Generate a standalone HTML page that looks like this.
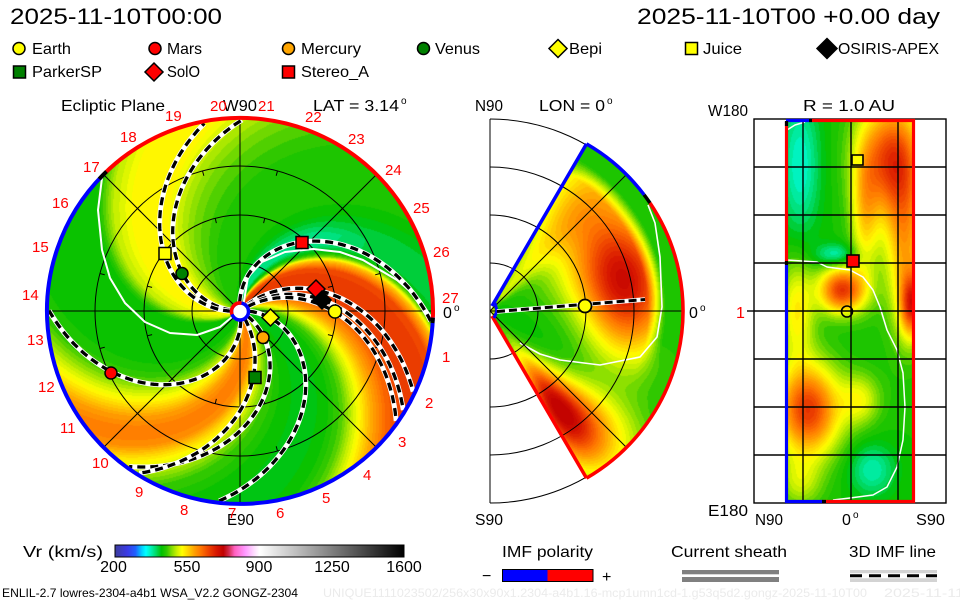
<!DOCTYPE html>
<html><head><meta charset="utf-8">
<style>
html,body{margin:0;padding:0;background:#fff;}
#wrap{position:relative;width:960px;height:600px;overflow:hidden;background:#fff;}
canvas,svg{position:absolute;left:0;top:0;}
</style></head><body>
<div id="wrap">
<svg width="960" height="600">
  <circle cx="240" cy="311" r="193" fill="#40c800"/>
  <path d="M490,311 L586.5,143.9 A193,193 0 0 1 586.5,478.1 Z" fill="#c8e000"/>
  <rect x="787" y="119" width="127" height="384" fill="#60c800"/>
</svg>
<canvas id="cv" width="960" height="600"></canvas>
<svg id="ov" width="960" height="600" font-family="'Liberation Sans', sans-serif">
  <defs>
    <linearGradient id="cb" x1="0" x2="1" y1="0" y2="0">
      <stop offset="0" stop-color="#3c3c9c"/>
      <stop offset="0.043" stop-color="#3a3ae6"/>
      <stop offset="0.071" stop-color="#2060ff"/>
      <stop offset="0.093" stop-color="#00d0ff"/>
      <stop offset="0.107" stop-color="#00ffff"/>
      <stop offset="0.125" stop-color="#00f0b0"/>
      <stop offset="0.143" stop-color="#00d860"/>
      <stop offset="0.161" stop-color="#00c000"/>
      <stop offset="0.179" stop-color="#30c800"/>
      <stop offset="0.196" stop-color="#80dc00"/>
      <stop offset="0.214" stop-color="#c8f000"/>
      <stop offset="0.232" stop-color="#ffff00"/>
      <stop offset="0.254" stop-color="#ffd000"/>
      <stop offset="0.275" stop-color="#ffa000"/>
      <stop offset="0.296" stop-color="#ff7800"/>
      <stop offset="0.321" stop-color="#f04800"/>
      <stop offset="0.35" stop-color="#d81800"/>
      <stop offset="0.375" stop-color="#c00000"/>
      <stop offset="0.393" stop-color="#d02848"/>
      <stop offset="0.414" stop-color="#ff60c0"/>
      <stop offset="0.45" stop-color="#ff98ff"/>
      <stop offset="0.479" stop-color="#ffd8ff"/>
      <stop offset="0.5" stop-color="#ffffff"/>
      <stop offset="1" stop-color="#000000"/>
    </linearGradient>
  </defs>

  <!-- header -->
  <text x="10" y="24" font-size="22" textLength="212" lengthAdjust="spacingAndGlyphs">2025-11-10T00:00</text>
  <text x="637" y="24" font-size="22" textLength="303" lengthAdjust="spacingAndGlyphs">2025-11-10T00 +0.00 day</text>

  <!-- legend -->
  <g stroke="#000" stroke-width="1.5">
    <circle cx="19" cy="48.5" r="6" fill="#ffff00"/>
    <circle cx="155" cy="48.5" r="6" fill="#ff0000"/>
    <circle cx="288.5" cy="48.5" r="6" fill="#ffa500"/>
    <circle cx="423.5" cy="48.5" r="6" fill="#008000"/>
    <path d="M558,39.5 L567,48.5 L558,57.5 L549,48.5 Z" fill="#ffff00"/>
    <rect x="685.5" y="42.5" width="12" height="12" fill="#ffff00"/>
    <path d="M827,38.5 L837,48.5 L827,58.5 L817,48.5 Z" fill="#000"/>
    <rect x="13.5" y="66" width="12" height="12" fill="#008000"/>
    <path d="M154,63 L163,72 L154,81 L145,72 Z" fill="#ff0000"/>
    <rect x="282.5" y="66" width="12" height="12" fill="#ff0000"/>
  </g>
  <g font-size="16" fill="#000">
    <text x="32" y="54" textLength="39" lengthAdjust="spacingAndGlyphs">Earth</text>
    <text x="167" y="54" textLength="35" lengthAdjust="spacingAndGlyphs">Mars</text>
    <text x="301" y="54" textLength="60" lengthAdjust="spacingAndGlyphs">Mercury</text>
    <text x="435" y="54" textLength="45" lengthAdjust="spacingAndGlyphs">Venus</text>
    <text x="569" y="54" textLength="33" lengthAdjust="spacingAndGlyphs">Bepi</text>
    <text x="703" y="54" textLength="39" lengthAdjust="spacingAndGlyphs">Juice</text>
    <text x="838" y="54" textLength="101" lengthAdjust="spacingAndGlyphs">OSIRIS-APEX</text>
    <text x="32" y="77" textLength="70" lengthAdjust="spacingAndGlyphs">ParkerSP</text>
    <text x="167" y="77" textLength="33" lengthAdjust="spacingAndGlyphs">SolO</text>
    <text x="301" y="77" textLength="68" lengthAdjust="spacingAndGlyphs">Stereo_A</text>
  </g>

  <!-- LEFT PANEL grid -->
  <g stroke="#000" stroke-width="1" fill="none">
    <circle cx="240" cy="311" r="48"/>
    <circle cx="240" cy="311" r="96"/>
    <circle cx="240" cy="311" r="145"/>
    <line x1="47" y1="311" x2="433" y2="311"/>
    <line x1="240" y1="118" x2="240" y2="504"/>
    <line x1="103.5" y1="174.5" x2="376.5" y2="447.5"/>
    <line x1="376.5" y1="174.5" x2="103.5" y2="447.5"/>
  </g>
  <g id="ticks" stroke="#000" stroke-width="1" fill="none"></g>
  <!-- white HCS lines -->
  <g stroke="#fff" stroke-width="2" fill="none" stroke-linejoin="round">
    <path d="M102,178 L98,210 L102,250 L110,278 L125,303 L145,322 L170,333 L197,335 L220,327 L232,317"/>
    <path d="M243,307 L248,277 L262,262 L285,252 L313,249 L340,252 L363,260 L397,280 L420,300 L432,318"/>
    <path d="M520,343 L540,354 L560,360 L600,365 L640,357 L657,337 L662,307 L660,257 L655,223 L648,205" stroke-width="1.6"/>
    <path d="M787,260 L817,262 L827,267 L850,270 L863,277 L873,290 L880,307 L887,330 L897,350 L903,373 L905,407 L903,440 L897,467 L887,487 L873,495 L850,498 L833,500" stroke-width="1.5"/>
    <path d="M787,130 L795,125 L805,122" stroke-width="1.5"/>
  </g>
  <g id="sp"></g>

  <!-- left rim -->
  <g fill="none" stroke-width="4">
    <path d="M103.5,174.5 A193,193 0 0 1 432.9,317.7" stroke="#ff0000"/>
    <path d="M432.9,317.7 A193,193 0 1 1 103.5,174.5" stroke="#0000ff"/>
    <path d="M99.2,179 A193,193 0 0 1 106.5,171.6" stroke="#000"/>
    <path d="M432.9,317.7 A193,193 0 0 1 432.4,323" stroke="#000"/>
  </g>
  <!-- sun -->
  <circle cx="240" cy="311.5" r="8.5" fill="#fff" stroke="#0000ff" stroke-width="3.5"/>
  <path d="M241.5,303.1 A8.5,8.5 0 0 0 232,314.4" fill="none" stroke="#ff0000" stroke-width="3.5"/>

  <!-- left markers -->
  <g stroke="#000" stroke-width="1.5">
    <rect x="296" y="236.5" width="12" height="12" fill="#ff0000"/>
    <path d="M316,280 L325,289 L316,298 L307,289 Z" fill="#ff0000"/>
    <path d="M322,291 L331,300 L322,309 L313,300 Z" fill="#000"/>
    <circle cx="335" cy="311.5" r="6.5" fill="#ffff00"/>
    <path d="M270.5,309 L279,317.5 L270.5,326 L262,317.5 Z" fill="#ffff00"/>
    <circle cx="263" cy="337.5" r="6" fill="#ffa500"/>
    <rect x="249" y="371.5" width="12" height="12" fill="#008000"/>
    <circle cx="111" cy="373" r="6" fill="#ff0000"/>
    <circle cx="182" cy="273.5" r="6" fill="#008000"/>
    <rect x="159" y="247.5" width="12" height="12" fill="#ffff00"/>
  </g>

  <!-- left labels -->
  <g font-size="16" fill="#000">
    <text x="61" y="111" textLength="104" lengthAdjust="spacingAndGlyphs">Ecliptic Plane</text>
    <text x="223" y="111" textLength="34" lengthAdjust="spacingAndGlyphs">W90</text>
    <text x="313" y="111" textLength="86" lengthAdjust="spacingAndGlyphs">LAT = 3.14</text>
    <text x="401" y="104" font-size="10">o</text>
    <text x="227" y="525" textLength="27" lengthAdjust="spacingAndGlyphs">E90</text>
    <text x="443" y="318">0</text>
    <text x="454" y="311" font-size="10">o</text>
  </g>
  <g font-size="15" fill="#ff0000">
    <text x="210" y="111">20</text>
    <text x="258" y="111">21</text>
    <text x="165" y="121">19</text>
    <text x="120" y="142">18</text>
    <text x="83" y="172">17</text>
    <text x="52" y="208">16</text>
    <text x="32" y="252">15</text>
    <text x="22" y="300">14</text>
    <text x="27" y="345">13</text>
    <text x="38" y="392">12</text>
    <text x="60" y="433">11</text>
    <text x="92" y="468">10</text>
    <text x="135" y="497">9</text>
    <text x="180" y="515">8</text>
    <text x="228" y="518">7</text>
    <text x="276" y="518">6</text>
    <text x="322" y="503">5</text>
    <text x="363" y="480">4</text>
    <text x="398" y="447">3</text>
    <text x="425" y="408">2</text>
    <text x="442" y="362">1</text>
    <text x="442" y="303">27</text>
    <text x="433" y="257">26</text>
    <text x="413" y="213">25</text>
    <text x="385" y="175">24</text>
    <text x="348" y="144">23</text>
    <text x="305" y="122">22</text>
  </g>

  <!-- MIDDLE PANEL -->
  <g stroke="#000" stroke-width="1" fill="none">
    <path d="M490,263 A48,48 0 0 1 490,359"/>
    <path d="M490,215 A96,96 0 0 1 490,407"/>
    <path d="M490,167 A144,144 0 0 1 490,455"/>
    <path d="M490,119 A192,192 0 0 1 490,503"/>
    <line x1="490" y1="119" x2="490" y2="503"/>
    <line x1="490" y1="311" x2="683" y2="311"/>
    <line x1="490" y1="311" x2="626.5" y2="174.5"/>
    <line x1="490" y1="311" x2="626.5" y2="447.5"/>
  </g>
  <g fill="none" stroke-width="3.5">
    <path d="M492,306 L586.5,143.9" stroke="#0000ff"/>
    <path d="M492,316 L586.5,478.1" stroke="#ff0000"/>
    <path d="M586.5,143.9 A193,193 0 0 1 644.1,194.8" stroke="#0000ff"/>
    <path d="M644.1,194.8 A193,193 0 0 1 650,203" stroke="#000"/>
    <path d="M650,203 A193,193 0 0 1 586.5,478.1" stroke="#ff0000"/>
    <path d="M495,303 L497,311 L494,318" stroke="#0000ff" stroke-width="3"/>
  </g>
  <path d="M497,311.5 L645,299.5" stroke="#fff" stroke-width="4.5" fill="none"/>
  <path d="M497,311.5 L645,299.5" stroke="#000" stroke-width="3" stroke-dasharray="8 4" fill="none"/>
  <circle cx="585" cy="306" r="6.5" fill="#ffff00" stroke="#000" stroke-width="1.8"/>
  <g font-size="16" fill="#000">
    <text x="475" y="111" textLength="28" lengthAdjust="spacingAndGlyphs">N90</text>
    <text x="539" y="111" textLength="66" lengthAdjust="spacingAndGlyphs">LON = 0</text>
    <text x="607" y="104" font-size="10">o</text>
    <text x="475" y="525" textLength="28" lengthAdjust="spacingAndGlyphs">S90</text>
    <text x="689" y="318">0</text>
    <text x="700" y="311" font-size="10">o</text>
  </g>

  <!-- RIGHT PANEL -->
  <g stroke="#000" stroke-width="1.4" fill="none">
    <rect x="754" y="119" width="192" height="384"/>
    <line x1="803" y1="119" x2="803" y2="503"/>
    <line x1="851" y1="119" x2="851" y2="503"/>
    <line x1="898" y1="119" x2="898" y2="503"/>
    <line x1="754" y1="167" x2="946" y2="167"/>
    <line x1="754" y1="215" x2="946" y2="215"/>
    <line x1="754" y1="263" x2="946" y2="263"/>
    <line x1="754" y1="311" x2="946" y2="311"/>
    <line x1="754" y1="359" x2="946" y2="359"/>
    <line x1="754" y1="407" x2="946" y2="407"/>
    <line x1="754" y1="455" x2="946" y2="455"/>
    <line x1="747" y1="311" x2="754" y2="311"/>
  </g>
  <g fill="none" stroke-width="3.2">
    <path d="M786.5,122 L786.5,262" stroke="#ff0000"/>
    <path d="M786.5,264 L786.5,503" stroke="#0000ff"/>
    <path d="M786,120.5 L812,120.5" stroke="#0000ff"/>
    <path d="M812,120.5 L915,120.5" stroke="#ff0000"/>
    <path d="M913.5,119 L913.5,503" stroke="#ff0000"/>
    <path d="M786,501.5 L823,501.5" stroke="#0000ff"/>
    <path d="M823,501.5 L915,501.5" stroke="#ff0000"/>
    <path d="M786.5,121 L786.5,126" stroke="#000"/>
    <path d="M786.5,261 L786.5,265" stroke="#000"/>
    <path d="M809,120.5 L812,120.5" stroke="#000"/>
    <path d="M822,501.5 L826,501.5" stroke="#000"/>
  </g>
  <g stroke="#000" stroke-width="1.6">
    <rect x="852" y="155" width="11" height="10" fill="#ffff00"/>
    <rect x="847" y="255" width="12" height="12" fill="#ff0000"/>
    <circle cx="847" cy="311.5" r="5.5" fill="none"/>
  </g>
  <g font-size="16" fill="#000">
    <text x="708" y="116" textLength="40" lengthAdjust="spacingAndGlyphs">W180</text>
    <text x="803" y="111" textLength="92" lengthAdjust="spacingAndGlyphs">R = 1.0 AU</text>
    <text x="708" y="516" textLength="40" lengthAdjust="spacingAndGlyphs">E180</text>
    <text x="755" y="525" textLength="28" lengthAdjust="spacingAndGlyphs">N90</text>
    <text x="842" y="525">0</text>
    <text x="853" y="518" font-size="10">o</text>
    <text x="916" y="525" textLength="29" lengthAdjust="spacingAndGlyphs">S90</text>
    <text x="736" y="318" fill="#ff0000">1</text>
  </g>

  <!-- BOTTOM -->
  <text x="23" y="557" font-size="16" textLength="80" lengthAdjust="spacingAndGlyphs">Vr (km/s)</text>
  <rect x="115" y="545" width="289" height="12" fill="url(#cb)" stroke="#000" stroke-width="1"/>
  <g font-size="16" fill="#000" text-anchor="middle">
    <text x="113.5" y="572">200</text>
    <text x="187" y="572">550</text>
    <text x="259" y="572">900</text>
    <text x="332" y="572">1250</text>
    <text x="404" y="572">1600</text>
  </g>
  <text x="2" y="597" font-size="12" textLength="296" lengthAdjust="spacingAndGlyphs">ENLIL-2.7 lowres-2304-a4b1 WSA_V2.2 GONGZ-2304</text>
  <text x="323" y="597" font-size="12" fill="#ebebeb" textLength="544" lengthAdjust="spacingAndGlyphs">UNIQUE1111023502/256x30x90x1.2304-a4b1.16-mcp1umn1cd-1.g53q5d2.gongz-2025-11-10T00</text>
  <text x="884" y="597" font-size="12" fill="#ebebeb" textLength="80" lengthAdjust="spacingAndGlyphs">2025-11-11</text>

  <text x="502" y="557" font-size="16" textLength="91" lengthAdjust="spacingAndGlyphs">IMF polarity</text>
  <text x="482" y="581" font-size="16">−</text>
  <rect x="502.5" y="569.5" width="45" height="12" fill="#0000ff"/>
  <rect x="547.5" y="569.5" width="45.5" height="12" fill="#ff0000"/>
  <rect x="502.5" y="569.5" width="90.5" height="12" fill="none" stroke="#000" stroke-width="1"/>
  <text x="602" y="582" font-size="16">+</text>

  <text x="671" y="557" font-size="16" textLength="116" lengthAdjust="spacingAndGlyphs">Current sheath</text>
  <rect x="682" y="570" width="97" height="4.3" fill="#808080"/>
  <rect x="682" y="577" width="97" height="5" fill="#808080"/>

  <text x="849" y="557" font-size="16" textLength="87" lengthAdjust="spacingAndGlyphs">3D IMF line</text>
  <rect x="850" y="570" width="87" height="12" fill="#d3d3d3"/>
  <line x1="850" y1="575.7" x2="937" y2="575.7" stroke="#fff" stroke-width="5"/>
  <line x1="850" y1="575.7" x2="937" y2="575.7" stroke="#000" stroke-width="3" stroke-dasharray="12 7"/>
</svg>
</div>
<script>
(function(){
const P=[[200,60,60,156],[260,58,58,230],[300,32,96,255],[330,0,208,255],[350,0,255,255],[375,0,240,176],[400,0,216,96],[425,0,192,0],[450,48,200,0],[475,128,220,0],[500,200,240,0],[525,255,255,0],[555,255,208,0],[585,255,160,0],[615,255,120,0],[650,240,72,0],[690,216,24,0],[725,192,0,0],[750,208,40,72],[780,255,96,192],[830,255,152,255],[870,255,216,255],[900,255,255,255],[1600,0,0,0]];
function col(v){
  v=Math.round(v/10)*10;
  if(v<=P[0][0])return [P[0][1],P[0][2],P[0][3]];
  for(let i=1;i<P.length;i++){if(v<=P[i][0]){const a=P[i-1],b=P[i],t=(v-a[0])/(b[0]-a[0]);return [a[1]+(b[1]-a[1])*t,a[2]+(b[2]-a[2])*t,a[3]+(b[3]-a[3])*t];}}
  return [0,0,0];
}
const T=[[-135,430],[-100,432],[-90,450],[-82,490],[-74,535],[-66,585],[-58,615],[-50,600],[-44,550],[-36,495],[-28,455],[-15,428],[0,420],[12,428],[22,460],[30,515],[38,575],[46,625],[54,655],[66,662],[74,650],[80,560],[83,470],[86,425],[90,395],[97,385],[103,405],[110,430],[120,440],[140,435],[155,455],[165,470],[175,495],[185,530],[205,528],[216,495],[225,430]];
function interp(p){for(let i=1;i<T.length;i++){if(p<=T[i][0]){const a=T[i-1],b=T[i],t=(p-a[0])/(b[0]-a[0]);return a[1]+(b[1]-a[1])*t;}}return T[T.length-1][1];}
function wrap(p){return ((p+135)%360+360)%360-135;}
const G=(x,s)=>Math.exp(-x*x/(2*s*s));
const cv=document.getElementById('cv'),ctx=cv.getContext('2d');
const img=ctx.createImageData(960,600),d=img.data;
function put(x,y,v){const c=col(v),i=(y*960+x)*4;d[i]=c[0];d[i+1]=c[1];d[i+2]=c[2];d[i+3]=255;}
const R2D=180/Math.PI;
// left disc
for(let y=116;y<507;y++)for(let x=44;x<437;x++){
  const dx=x+0.5-240,dy=311-(y+0.5),r=Math.hypot(dx,dy);
  if(r>193||r<7)continue;
  const ph=Math.atan2(dy,dx)*R2D;
  const k=0.45+0.6*Math.exp(-r/40);
  let v=interp(wrap(ph+k*r));
  if(v<420){const f=Math.max(0.35,Math.min(1,(170-r)/60));v=420-(420-v)*f;}
  put(x,y,v);
}
// middle wedge
function mid(r,t){
  let v=430;
  v+=200*G(r-138,32)*G(t-8,20);
  v+=110*G(r-130,45)*G(t-28,22);
  v+=70*G(t-52,10)*Math.min(1,r/20);
  v+=250*G(r-120,45)*G(t+56,7);
  v+=110*G(r-140,50)*G(t+46,8);
  let w=Math.max(0,Math.min(1,(r-158)/18));
  let wt=Math.max(0,Math.min(1,(t+30)/20));
  w*=wt; v=v+(440-v)*w;
  return Math.min(v,722);
}
for(let y=116;y<507;y++)for(let x=490;x<686;x++){
  const dx=x+0.5-490,dy=311-(y+0.5),r=Math.hypot(dx,dy);
  if(r>193||r<5)continue;
  const t=Math.atan2(dy,dx)*R2D;
  if(Math.abs(t)>60)continue;
  put(x,y,mid(r,t));
}
// right map
const B=[[890,158,22,40,210],[905,240,14,60,140],[912,305,8,22,200],[842,290,16,16,230],[797,310,12,35,100],[808,410,22,32,230],[865,215,10,45,100],[800,165,14,50,-70],[836,255,14,8,-70],[872,470,16,18,-60],[860,400,14,18,80],[800,482,15,18,60]];
for(let y=119;y<503;y++)for(let x=787;x<914;x++){
  let v=435;const X=x+0.5,Y=y+0.5;
  for(const b of B)v+=b[4]*G(X-b[0],b[2])*G(Y-b[1],b[3]);
  put(x,y,Math.min(v,720));
}
ctx.putImageData(img,0,0);
// spiral field lines
const L=[[-80.8,0.52],[179.2,0.47],[184.8,0.44],[96.3,0.52],[43.8,0.36],[37.5,0.36],[33.6,0.36],[3.1,0.52],[-30,0.5],[-55,0.35]];
let s='';
for(const l of L){
  let pts=[];
  for(let r=9;r<=192;r+=2){const ph=(l[0]-l[1]*r)/R2D;pts.push((240+r*Math.cos(ph)).toFixed(1)+','+(311-r*Math.sin(ph)).toFixed(1));}
  const dd='M'+pts.join(' L');
  s+='<path d="'+dd+'" fill="none" stroke="#fff" stroke-width="5" stroke-linejoin="round"/>';
  s+='<path d="'+dd+'" fill="none" stroke="#000" stroke-width="3.3" stroke-dasharray="8 5" stroke-linejoin="round"/>';
}
document.getElementById('sp').innerHTML=s;
// small ticks on orbit circles
let t='';
for(const rr of [96,145]){
  for(let a=0;a<360;a+=30){
    const ph=(a+15)/R2D,c=Math.cos(ph),sn=Math.sin(ph);
    t+='<line x1="'+(240+rr*c).toFixed(1)+'" y1="'+(311-rr*sn).toFixed(1)+'" x2="'+(240+(rr-5)*c).toFixed(1)+'" y2="'+(311-(rr-5)*sn).toFixed(1)+'"/>';
  }
}
document.getElementById('ticks').innerHTML=t;
})();
</script>
</body></html>
